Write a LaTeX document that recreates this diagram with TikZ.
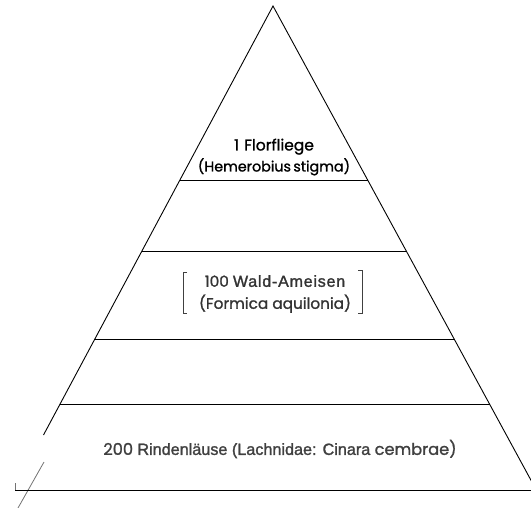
\documentclass[tikz,border=0pt]{standalone}
\usepackage{fontspec}
\newfontfamily\futura[FakeBold=1.2]{Poppins}
\newfontfamily\helv[FakeBold=1.5]{Liberation Sans}
\newfontfamily\helvwide[FakeBold=1.5,LetterSpace=5]{Liberation Sans}
\newcommand\topsize{\futura\fontsize{14.3}{21}\selectfont}
\newcommand\midsize{\futura\fontsize{15.3}{22}\selectfont}
\newcommand\lowsize{\futura\fontsize{16.2}{18}\selectfont}
\begin{document}
\begin{tikzpicture}[x=1pt,y=-1pt,
  edge/.style={line width=0.9pt},
  scan/.style={line width=0.8pt,black!55},
  lbl/.style={align=center,inner sep=0pt},
  brack/.style={line width=0.8pt,black!75}]
  \useasboundingbox (0,0) rectangle (531,508);
  % pyramid outline
  \draw[edge] (43.5,435) -- (273,6) -- (536.3,490);
  \draw[scan] (44,462) -- (18,508);
  \draw[scan] (15,483) -- (15,491);
  % layers
  \draw[edge] (179.9,180) -- (367.7,180);
  \draw[edge] (141.9,251) -- (406.3,251);
  \draw[edge] (94.8,339) -- (454.2,339);
  \draw[edge] (60.1,404) -- (489.5,404);
  \draw[edge] (15,490) -- (536.3,490);
  % labels
  \node[lbl,font=\topsize] (florfliege) at (274,157)
    {\futura\fontsize{15.5}{21}\selectfont 1\,\,Florfliege\\\topsize (Hemerobius\,stigma)};
  \node[lbl,black!80,font=\midsize] (ameisen) at (275,294)
    {\midsize 100 {\helvwide\fontsize{16}{22}\selectfont Wald-Ameisen}\\\midsize (Formica aquilonia)};
  \node[lbl,black!75,font=\lowsize] (laeuse) at (280,449)
    {\lowsize 200 {\helv Rindenläuse (Lachnidae: Cinara} cembrae)};
  \draw[brack] (187,272) -- (183,272) -- (183,313) -- (187,313);
  \draw[brack] (358,270) -- (362,270) -- (362,313) -- (358,313);
\end{tikzpicture}
\end{document}
